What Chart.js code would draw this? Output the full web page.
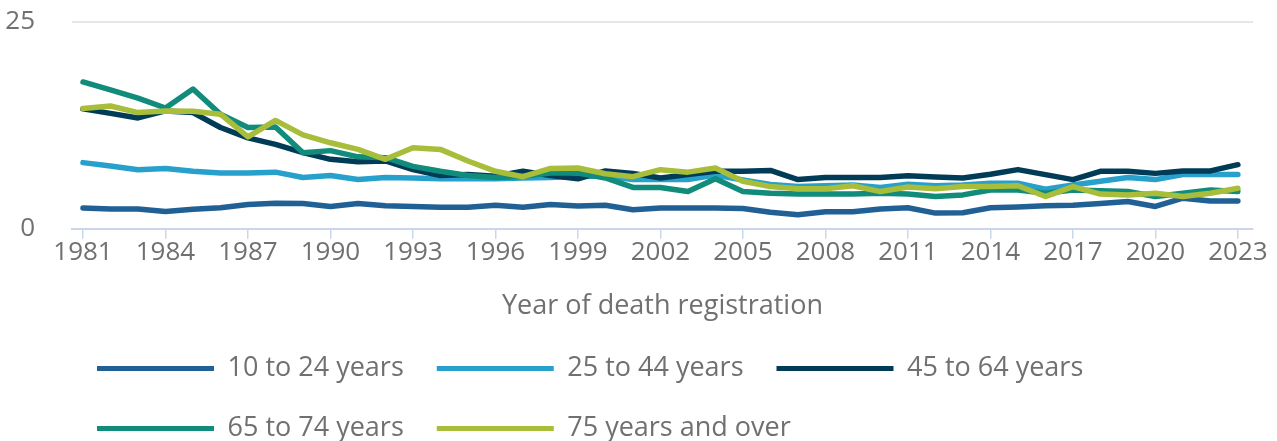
<!DOCTYPE html>
<html>
<head>
<meta charset="utf-8">
<script src="https://cdn.jsdelivr.net/npm/chart.js@4/dist/chart.umd.min.js"></script>
<style>
  html, body { margin: 0; padding: 0; background: #fff; }
  #wrap { width: 1277px; height: 441px; }
</style>
</head>
<body>
<div id="wrap"><canvas id="deathsChart"></canvas></div>
<script>
const years = [1981, 1982, 1983, 1984, 1985, 1986, 1987, 1988, 1989, 1990,
  1991, 1992, 1993, 1994, 1995, 1996, 1997, 1998, 1999, 2000,
  2001, 2002, 2003, 2004, 2005, 2006, 2007, 2008, 2009, 2010,
  2011, 2012, 2013, 2014, 2015, 2016, 2017, 2018, 2019, 2020,
  2021, 2022, 2023];
const tickYears = [1981, 1984, 1987, 1990, 1993, 1996, 1999, 2002, 2005, 2008, 2011, 2014, 2017, 2020, 2023];
const yTicks = [0, 25];

const age10to24 = [2.5, 2.4, 2.4, 2.1, 2.35, 2.55, 2.95, 3.1, 3.05, 2.7,
  3.05, 2.8, 2.7, 2.6, 2.6, 2.85, 2.6, 2.95, 2.75, 2.85,
  2.3, 2.5, 2.5, 2.5, 2.45, 2.0, 1.7, 2.05, 2.05, 2.4,
  2.55, 1.9, 1.95, 2.55, 2.65, 2.8, 2.85, 3.05, 3.3, 2.7,
  3.7, 3.35, 3.35];
const age25to44 = [8.0, 7.6, 7.15, 7.3, 6.95, 6.75, 6.75, 6.85, 6.2, 6.45,
  5.95, 6.2, 6.15, 6.05, 6.05, 6.05, 6.15, 6.2, 6.35, 6.35,
  5.95, 6.0, 5.95, 6.5, 5.9, 5.35, 5.1, 5.2, 5.3, 5.0,
  5.4, 5.2, 5.3, 5.5, 5.5, 4.8, 5.3, 5.75, 6.2, 5.95,
  6.55, 6.55, 6.55];
const age45to64 = [14.5, 13.95, 13.4, 14.25, 14.05, 12.25, 11.0, 10.2, 9.2, 8.4,
  8.1, 8.2, 7.15, 6.45, 6.55, 6.35, 6.95, 6.45, 6.05, 7.0,
  6.7, 6.15, 6.55, 6.95, 6.95, 7.05, 5.95, 6.2, 6.2, 6.2,
  6.4, 6.25, 6.15, 6.6, 7.15, 6.55, 5.95, 6.95, 6.95, 6.7,
  7.0, 7.0, 7.75];
const age65to74 = [17.75, 16.8, 15.8, 14.6, 16.9, 13.85, 12.25, 12.3, 9.2, 9.45,
  8.7, 8.6, 7.55, 6.95, 6.45, 6.2, 6.35, 6.75, 6.75, 6.15,
  5.0, 5.0, 4.5, 6.05, 4.5, 4.3, 4.2, 4.2, 4.2, 4.3,
  4.2, 3.9, 4.1, 4.7, 4.7, 4.3, 4.7, 4.6, 4.5, 3.9,
  4.3, 4.7, 4.5];
const age75plus = [14.55, 14.85, 14.05, 14.25, 14.2, 13.85, 11.1, 13.1, 11.35, 10.4,
  9.6, 8.4, 9.8, 9.6, 8.2, 6.95, 6.3, 7.3, 7.35, 6.65,
  6.3, 7.15, 6.85, 7.35, 5.75, 5.1, 4.85, 4.85, 5.2, 4.5,
  5.05, 4.85, 5.1, 5.1, 5.2, 3.9, 5.1, 4.2, 4.1, 4.3,
  3.9, 4.3, 4.9];

const seriesNames = ['10 to 24 years', '25 to 44 years', '45 to 64 years', '65 to 74 years', '75 years and over'];
const seriesValues = [age10to24, age25to44, age45to64, age65to74, age75plus];
const seriesColors = ['#206095', '#27a0cc', '#003c57', '#118c7b', '#a8bd3a'];

const textColor = '#707070';
const tickFont = { family: "'Open Sans', sans-serif", size: 26 };
const bigFont = { family: "'Open Sans', sans-serif", size: 27 };

// later series sit on top, like the original
const datasets = seriesNames.map(function (name, i) {
  return {
    label: name,
    data: years.map(function (y, j) { return { x: y, y: seriesValues[i][j] }; }),
    borderColor: seriesColors[i],
    backgroundColor: seriesColors[i],
    borderWidth: 5.5,
    borderJoinStyle: 'round',
    borderCapStyle: 'round',
    pointRadius: 0,
    tension: 0,
    order: seriesNames.length - i
  };
});

// nudge the legend so it lines up under the plot like the original
const legendNudge = {
  id: 'legendNudge',
  afterLayout: function (chart) {
    const lg = chart.legend;
    lg.left -= 8; lg.right -= 8;
    lg.top -= 1; lg.bottom -= 1;
  }
};

new Chart(document.getElementById('deathsChart'), {
  type: 'line',
  data: { datasets: datasets },
  plugins: [legendNudge],
  options: {
    responsive: true,
    maintainAspectRatio: false,
    animation: false,
    layout: { padding: { left: 5, right: 24, top: 22, bottom: -12 } },
    plugins: {
      tooltip: { enabled: false },
      legend: {
        position: 'bottom',
        align: 'start',
        fullSize: false,
        labels: {
          color: textColor,
          font: bigFont,
          boxWidth: 117,
          boxHeight: 5,
          padding: 33,
          generateLabels: function (chart) {
            const items = Chart.defaults.plugins.legend.labels.generateLabels(chart);
            items.forEach(function (it) { it.lineWidth = 0; it.fillStyle = it.strokeStyle; });
            items.sort(function (a, b) { return a.datasetIndex - b.datasetIndex; });
            return items;
          }
        }
      }
    },
    scales: {
      x: {
        type: 'linear',
        min: years[0] - 0.4,
        max: years[years.length - 1] + 0.55,
        afterBuildTicks: function (axis) {
          axis.ticks = tickYears.map(function (v) { return { value: v }; });
        },
        afterFit: function (axis) {
          axis.paddingLeft = 0;
          axis.paddingRight = 0;
        },
        ticks: {
          color: textColor,
          font: tickFont,
          padding: -2,
          maxRotation: 0,
          autoSkip: false,
          callback: function (v) { return String(v); }
        },
        grid: {
          drawOnChartArea: false,
          drawTicks: true,
          tickLength: 10,
          color: '#ccd6eb',
          lineWidth: 1.5
        },
        border: { display: true, color: '#ccd6eb', width: 2 },
        title: {
          display: true,
          text: 'Year of death registration',
          color: textColor,
          font: bigFont,
          padding: { top: 24.6, bottom: 0 }
        }
      },
      y: {
        min: 0,
        max: 25,
        afterBuildTicks: function (axis) {
          axis.ticks = yTicks.map(function (v) { return { value: v }; });
        },
        afterFit: function (axis) {
          axis.width = 67;
          axis.paddingTop = 16;
          axis.paddingBottom = 16;
        },
        ticks: { color: textColor, font: tickFont, padding: 37 },
        grid: {
          drawTicks: false,
          color: function (ctx) { return ctx.tick && ctx.tick.value === 25 ? '#e6e6e6' : 'rgba(0,0,0,0)'; },
          lineWidth: 2
        },
        border: { display: false }
      }
    }
  }
});
</script>
</body>
</html>
